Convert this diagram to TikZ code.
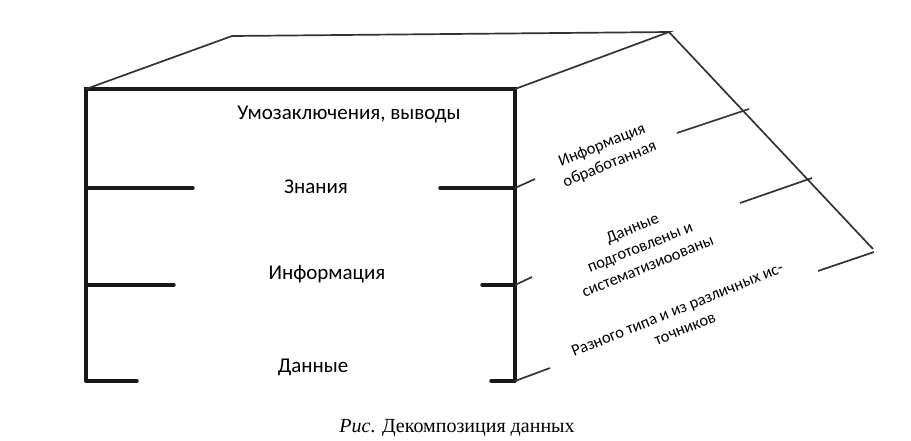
\documentclass[tikz,border=0pt]{standalone}
\usepackage{fontspec}
\setmainfont{Carlito}
\newfontfamily\capfont{Liberation Serif}
\begin{document}
\begin{tikzpicture}[x=1pt,y=-1pt,
  thickline/.style={line width=3.4pt, line cap=round, line join=miter, black!90},
  thinline/.style={line width=1.7pt, black!80},
  mainlabel/.style={font=\fontsize{21}{25}\selectfont, inner sep=0pt},
  sidelabel/.style={font=\fontsize{16.5}{20.5}\selectfont, align=center, rotate=22, inner sep=0pt},
  caption/.style={font=\capfont\fontsize{20}{24}\selectfont, inner sep=0pt}]
\useasboundingbox (0,0) rectangle (911,440);
% front face corners
\coordinate (FTL) at (86,89);
\coordinate (FTR) at (515,89);
\coordinate (FBL) at (86,381);
\coordinate (FBR) at (515,381);
% back edges
\coordinate (BTL) at (232,36);
\coordinate (BTR) at (669,32);
\coordinate (BBR) at (873,249);
% level ticks
\coordinate (L1) at (86,188);  \coordinate (L1e) at (193,188);
\coordinate (R1) at (515,188); \coordinate (R1s) at (440,188);
\coordinate (L2) at (86,285);  \coordinate (L2e) at (174,285);
\coordinate (R2) at (515,285); \coordinate (R2s) at (482,285);
\coordinate (L3e) at (137,381);
\coordinate (R3s) at (491,381);
% side ticks
\coordinate (S1a) at (535,179);
\coordinate (S2a) at (532,277);
\coordinate (S3a) at (550,368);
\coordinate (T1a) at (677,133); \coordinate (T1b) at (749,109);
\coordinate (T2a) at (740,203); \coordinate (T2b) at (812,178);
\coordinate (T3a) at (818,271); \coordinate (T3b) at (874,252);

% front frame
\draw[thickline] (FBL) -- (FTL) -- (FTR) -- (FBR);
\draw[thickline] (L1) -- (L1e);
\draw[thickline] (R1s) -- (R1);
\draw[thickline] (L2) -- (L2e);
\draw[thickline] (R2s) -- (R2);
\draw[thickline] (FBL) -- (L3e);
\draw[thickline] (R3s) -- (FBR);
% perspective
\draw[thinline] (FTL) -- (BTL) -- (BTR) -- (FTR);
\draw[thinline] (BTR) -- (BBR);
\draw[thinline] (R1) -- (S1a);
\draw[thinline] (R2) -- (S2a);
\draw[thinline] (FBR) -- (S3a);
\draw[thinline] (T1a) -- (T1b);
\draw[thinline] (T2a) -- (T2b);
\draw[thinline] (T3a) -- (T3b);

% labels
\node[mainlabel] (lev4) at (349,114) {Умозаключения, выводы};
\node[mainlabel] (lev3) at (316,187) {Знания};
\node[mainlabel] (lev2) at (327,274) {Информация};
\node[mainlabel] (lev1) at (313,367) {Данные};

\node[sidelabel] (side3) at (606,155) {Информация\\обработанная};
\node[sidelabel] (side2) at (640,247) {Данные\\подготовлены и\\систематизиоованы};
\node[sidelabel] (side1) at (681,319) {Разного типа и из различных ис-\\точников};

\node[caption] (cap) at (457,428) {\textit{Рис}. Декомпозиция данных};
\end{tikzpicture}
\end{document}
